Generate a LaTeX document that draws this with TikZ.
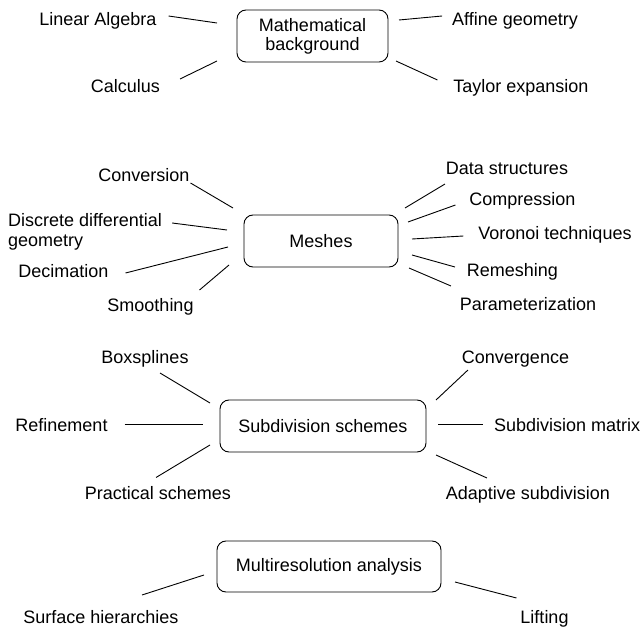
\documentclass[tikz,border=0pt]{standalone}
\usepackage{fontspec}
\setmainfont{Liberation Sans}
\usetikzlibrary{calc}

\tikzset{
  topic/.style={draw, line width=0.9pt, rounded corners=9pt, inner sep=0pt, outer sep=0pt, align=center},
  lbl/.style={inner sep=0pt, outer sep=0pt, text height=13pt, text depth=0pt},
  spoke/.style={line width=0.9pt}
}

\begin{document}
\begin{tikzpicture}[x=1pt, y=-1pt, font=\fontsize{18}{20.5}\selectfont]
  \useasboundingbox (0,0) rectangle (643,628);

  % topics
  \node[topic, minimum width=151pt, minimum height=52pt] (mb) at (312.5,36) {Mathematical\\[-1.5pt]background};
  \node[topic, minimum width=154pt, minimum height=52pt] (ms) at (321,241) {Meshes};
  \node[topic, minimum width=206pt, minimum height=52pt] (ss) at (323,426) {Subdivision schemes};
  \node[topic, minimum width=224pt, minimum height=51pt] (mr) at (329,566.5) {Multiresolution analysis};

  % mathematical background
  \node[lbl] (la) at (98,19) {Linear Algebra};
  \node[lbl] (ag) at (515,19) {Affine geometry};
  \node[lbl] (ca) at (125.5,86) {Calculus};
  \node[lbl] (te) at (521,86) {Taylor expansion};
  \foreach \p/\po/\q/\qo in {la.east/{12,-3}/mb.west/{-20,-13},
                             ca.east/{20,-7}/mb.west/{-20,25},
                             mb.east/{11,-16}/ag.west/{-10,-3},
                             mb.east/{8,25}/te.west/{-16,-6}}
      \draw[spoke] ($(\p)+(\po)$) -- ($(\q)+(\qo)$);

  % meshes
  \node[lbl] (cv) at (144,175) {Conversion};
  \node[inner sep=0pt, align=left, anchor=west] (dd) at (8,232) {Discrete differential\\geometry};
  \node[lbl] (de) at (63.5,271) {Decimation};
  \node[lbl] (sm) at (150.5,305) {Smoothing};
  \node[lbl] (ds) at (507,168) {Data structures};
  \node[lbl] (co) at (522.5,199) {Compression};
  \node[lbl] (vt) at (555,233) {Voronoi techniques};
  \node[lbl] (rm) at (512.5,270) {Remeshing};
  \node[lbl] (pa) at (528,304) {Parameterization};
  \foreach \p/\po/\q/\qo in {cv.east/{1,8}/ms.west/{-11,-33},
                             dd.east/{10,-9}/ms.west/{-17,-11},
                             de.east/{17,2}/ms.west/{-16,6},
                             sm.east/{6,-15}/ms.west/{-15,24},
                             ms.east/{7,-33}/ds.west/{-1,16},
                             ms.east/{10,-19}/co.west/{-14,6},
                             ms.east/{14,-2}/vt.west/{-15,3},
                             ms.east/{14,14}/rm.west/{-12,-3},
                             ms.east/{11,27}/pa.west/{-9,-18}}
      \draw[spoke] ($(\p)+(\po)$) -- ($(\q)+(\qo)$);

  % subdivision schemes
  \node[lbl] (bs) at (145,357) {Boxsplines};
  \node[lbl] (rf) at (61.5,425) {Refinement};
  \node[lbl] (ps) at (158,493) {Practical schemes};
  \node[lbl] (cg) at (515.5,357) {Convergence};
  \node[lbl, anchor=west] (sx) at (494,425) {Subdivision matrix};
  \node[lbl] (ad) at (528,493) {Adaptive subdivision};
  \foreach \p/\po/\q/\qo in {bs.center/{15,16}/ss.west/{-10,-23},
                             rf.east/{17,-1}/ss.west/{-17,-2},
                             ps.north/{-2,-9}/ss.west/{-10,19},
                             ss.east/{10,-26}/cg.south west/{6,6.5},
                             ss.east/{12,-2}/sx.west/{-11,-1},
                             ss.east/{10,29}/ad.west/{41,-15}}
      \draw[spoke] ($(\p)+(\po)$) -- ($(\q)+(\qo)$);

  % multiresolution analysis
  \node[lbl] (sh) at (101,617) {Surface hierarchies};
  \node[lbl] (li) at (544.5,617) {Lifting};
  \foreach \p/\po/\q/\qo in {sh.north/{41,-15.5}/mr.west/{-13,8.5},
                             mr.east/{14,15.5}/li.west/{-4,-19}}
      \draw[spoke] ($(\p)+(\po)$) -- ($(\q)+(\qo)$);
\end{tikzpicture}
\end{document}
